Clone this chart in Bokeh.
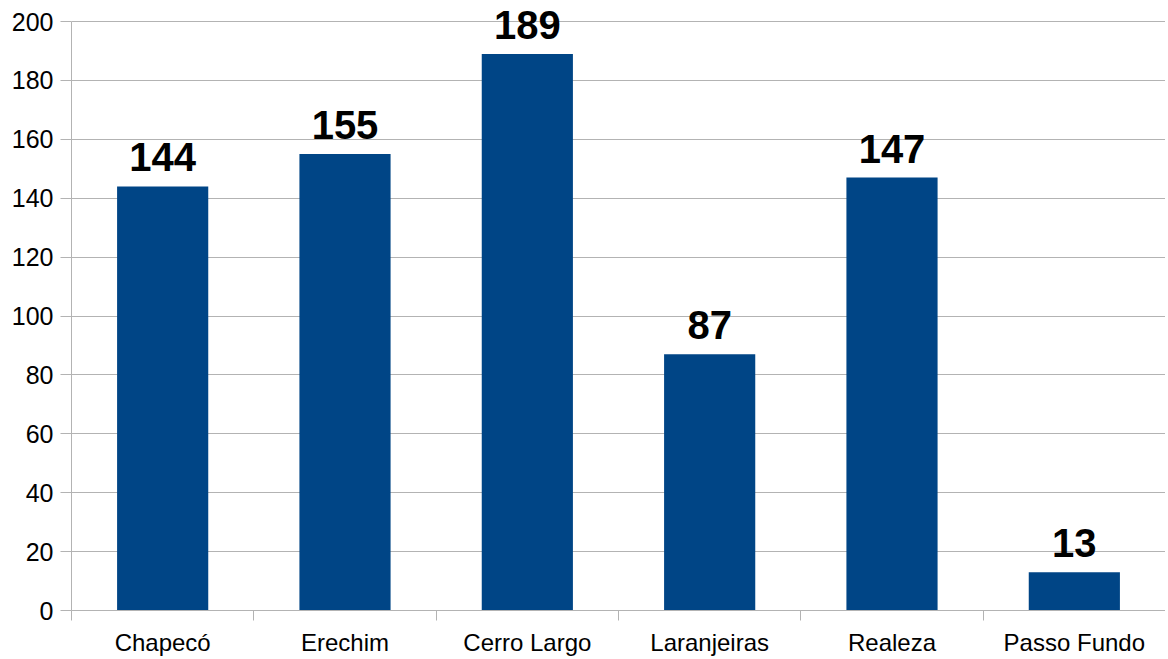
from bokeh.plotting import figure
from bokeh.models import ColumnDataSource, Range1d, FixedTicker
from bokeh.core.properties import value
from bokeh.embed import file_html
from bokeh.resources import INLINE

categories = ["Chapecó", "Erechim", "Cerro Largo", "Laranjeiras", "Realeza", "Passo Fundo"]
counts = [144, 155, 189, 87, 147, 13]
y_ticks = [0, 20, 40, 60, 80, 100, 120, 140, 160, 180, 200]

n = len(categories)
centers = [i + 0.5 for i in range(n)]
source = ColumnDataSource(dict(x=centers, top=counts, label=[str(c) for c in counts]))

# axis spans 0..200 over 589 px; the frame is extended to the top of the canvas
# so that the value labels above the tallest bar are not clipped
axis_px = 589
frame_px = 610
y_max = y_ticks[-1]
y_end = y_max * frame_px / axis_px

p = figure(frame_width=1094, frame_height=frame_px, output_backend="svg", toolbar_location=None,
           x_range=Range1d(0, n), y_range=Range1d(0, y_end),
           min_border_left=71, min_border_top=0, min_border_right=0, min_border_bottom=0)
p.outline_line_color = None
p.background_fill_color = "white"
p.border_fill_color = "white"

p.vbar(x="x", top="top", width=0.5, bottom=0, source=source, fill_color="#004586", line_color=None)
p.text(x="x", y="top", text="label", source=source, text_align="center", text_baseline="alphabetic",
       y_offset=-29, text_font=value("Liberation Sans"), text_font_style="bold",
       text_font_size="40px", text_color="black")

# y axis
p.yaxis.ticker = FixedTicker(ticks=y_ticks)
p.yaxis.bounds = (0, y_max)
p.yaxis.axis_line_color = "#b3b3b3"
p.yaxis.major_tick_line_color = "#b3b3b3"
p.yaxis.major_tick_out = 11
p.yaxis.major_tick_in = 0
p.yaxis.minor_tick_line_color = None
p.yaxis.major_label_text_font = "Liberation Sans"
p.yaxis.major_label_text_font_size = "25px"
p.yaxis.major_label_text_color = "black"
p.yaxis.major_label_standoff = 7

# x axis: labels at centers, ticks at boundaries
p.xaxis.ticker = FixedTicker(ticks=centers, minor_ticks=list(range(n + 1)))
p.xaxis.major_label_overrides = {c: cat for c, cat in zip(centers, categories)}
p.xaxis.axis_line_color = "#b3b3b3"
p.xaxis.major_tick_line_color = None
p.xaxis.major_tick_out = 0
p.xaxis.major_tick_in = 0
p.xaxis.minor_tick_line_color = "#b3b3b3"
p.xaxis.minor_tick_out = 10
p.xaxis.minor_tick_in = 0
p.xaxis.major_label_text_font = "Liberation Sans"
p.xaxis.major_label_text_font_size = "24px"
p.xaxis.major_label_text_color = "black"
p.xaxis.major_label_standoff = 8

p.xgrid.grid_line_color = None
p.ygrid.ticker = FixedTicker(ticks=y_ticks)
p.ygrid.grid_line_color = "#b3b3b3"

open("out.html", "w").write(file_html(p, INLINE))
